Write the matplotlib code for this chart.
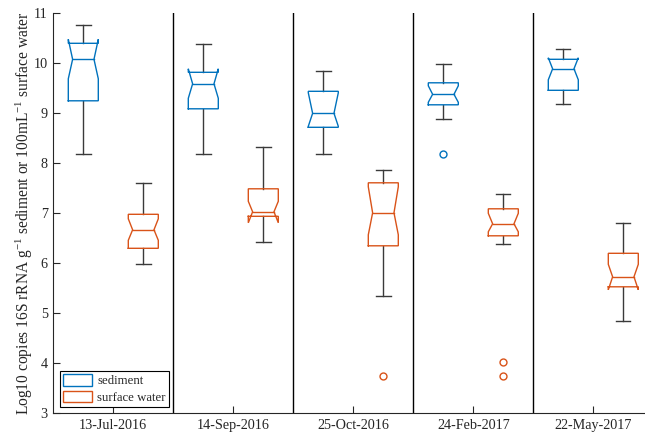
import matplotlib
matplotlib.use("Agg")
import matplotlib.pyplot as plt
from matplotlib.patches import Patch

plt.rcParams['font.family'] = ['Liberation Serif', 'DejaVu Serif']
plt.rcParams['mathtext.fontset'] = 'custom'
plt.rcParams['mathtext.rm'] = 'Liberation Serif'
plt.rcParams['mathtext.it'] = 'Liberation Serif:italic'
plt.rcParams['mathtext.bf'] = 'Liberation Serif:bold'

# Sampling dates
dates = ['13-Jul-2016', '14-Sep-2016', '25-Oct-2016', '24-Feb-2017', '22-May-2017']

# Sediment: log10 copies 16S rRNA per g
sed_whislo = [8.18, 8.18, 8.18, 8.88, 9.18]
sed_q1     = [9.25, 9.09, 8.72, 9.17, 9.46]
sed_cilo   = [9.69, 9.30, 8.74, 9.22, 9.67]
sed_med    = [10.08, 9.59, 9.00, 9.38, 9.89]
sed_cihi   = [10.48, 9.89, 9.41, 9.55, 10.11]
sed_q3     = [10.40, 9.82, 9.44, 9.61, 10.08]
sed_whishi = [10.77, 10.39, 9.85, 9.99, 10.29]
sed_fliers = [[], [], [], [8.18], []]

# Surface water: log10 copies 16S rRNA per 100 mL
sw_whislo = [5.98, 6.43, 5.35, 6.39, 4.85]
sw_q1     = [6.30, 6.94, 6.35, 6.55, 5.53]
sw_cilo   = [6.46, 6.81, 6.57, 6.63, 5.47]
sw_med    = [6.67, 7.03, 7.01, 6.79, 5.73]
sw_cihi   = [6.89, 7.24, 7.53, 7.00, 5.98]
sw_q3     = [6.98, 7.49, 7.61, 7.09, 6.20]
sw_whishi = [7.61, 8.32, 7.87, 7.39, 6.81]
sw_fliers = [[], [], [3.74], [4.03, 3.74], []]

series_names = ['sediment', 'surface water']
series_colors = ['#0072BD', '#D95319']
whisker_color = '#3a3a3a'
axis_color = '#262626'

BOX_W = 0.25
NOTCH_IN = 0.036
CAP_HW = 0.06


def draw_notched_box(ax, pos, whislo, q1, cilo, med, cihi, q3, whishi, fliers, color):
    left, right = pos - BOX_W / 2, pos + BOX_W / 2
    nl, nr = left + NOTCH_IN, right - NOTCH_IN
    # whiskers and caps
    ax.plot([pos, pos], [q3, whishi], color=whisker_color, lw=1.0, zorder=2)
    ax.plot([pos, pos], [whislo, q1], color=whisker_color, lw=1.0, zorder=2)
    ax.plot([pos - CAP_HW, pos + CAP_HW], [whishi, whishi], color=whisker_color, lw=1.0, zorder=2)
    ax.plot([pos - CAP_HW, pos + CAP_HW], [whislo, whislo], color=whisker_color, lw=1.0, zorder=2)
    # notched box outline
    bx = [left, right, right, nr, right, right, left, left, nl, left, left]
    by = [q1, q1, cilo, med, cihi, q3, q3, cihi, med, cilo, q1]
    ax.plot(bx, by, color=color, lw=1.0, zorder=3, solid_joinstyle='miter')
    # median
    ax.plot([nl, nr], [med, med], color=color, lw=1.0, zorder=3)
    # outliers
    if fliers:
        ax.plot([pos] * len(fliers), fliers, linestyle='none', marker='o',
                markersize=5, markerfacecolor='none', markeredgecolor=color,
                markeredgewidth=1.0, zorder=3)


fig = plt.figure(figsize=(6.45, 4.38), dpi=100)
ax = fig.add_axes([53.3 / 645, 24.7 / 438, 600 / 645, 400 / 438])

n = len(dates)
for i in range(n):
    g = i + 1
    draw_notched_box(ax, g - 0.25, sed_whislo[i], sed_q1[i], sed_cilo[i], sed_med[i],
                     sed_cihi[i], sed_q3[i], sed_whishi[i], sed_fliers[i], series_colors[0])
    draw_notched_box(ax, g + 0.25, sw_whislo[i], sw_q1[i], sw_cilo[i], sw_med[i],
                     sw_cihi[i], sw_q3[i], sw_whishi[i], sw_fliers[i], series_colors[1])

# separators between sampling dates
for b in range(1, n):
    ax.axvline(b + 0.5, color='black', lw=1.0, zorder=1)

ax.set_xlim(0.5, n + 0.5)
ax.set_ylim(3, 11)
ax.set_xticks(range(1, n + 1))
ax.set_xticklabels(dates)
ax.set_yticks(range(3, 12))

for side in ('top', 'right'):
    ax.spines[side].set_visible(False)
for side in ('left', 'bottom'):
    ax.spines[side].set_color(axis_color)
    ax.spines[side].set_linewidth(0.8)

ax.tick_params(direction='in', length=5, width=0.8, color=axis_color,
               labelcolor=axis_color, labelsize=10.2, pad=4)

ax.set_ylabel(r'Log10 copies 16S rRNA g$^{-1}$ sediment or 100mL$^{-1}$ surface water',
              fontsize=11.2, color=axis_color)
ax.yaxis.set_label_coords(-0.031, 0.5)

handles = [Patch(facecolor='white', edgecolor=c, linewidth=1.0) for c in series_colors]
leg = ax.legend(handles, series_names, loc='lower left', fontsize=9.2,
                frameon=True, fancybox=False, edgecolor='black', framealpha=1,
                handlelength=2.3, handleheight=1.0, handletextpad=0.4,
                borderpad=0.25, labelspacing=0.25, borderaxespad=0.5)
leg.get_frame().set_linewidth(0.8)
for t in leg.get_texts():
    t.set_color(axis_color)

fig.savefig('out.png', dpi=100)
